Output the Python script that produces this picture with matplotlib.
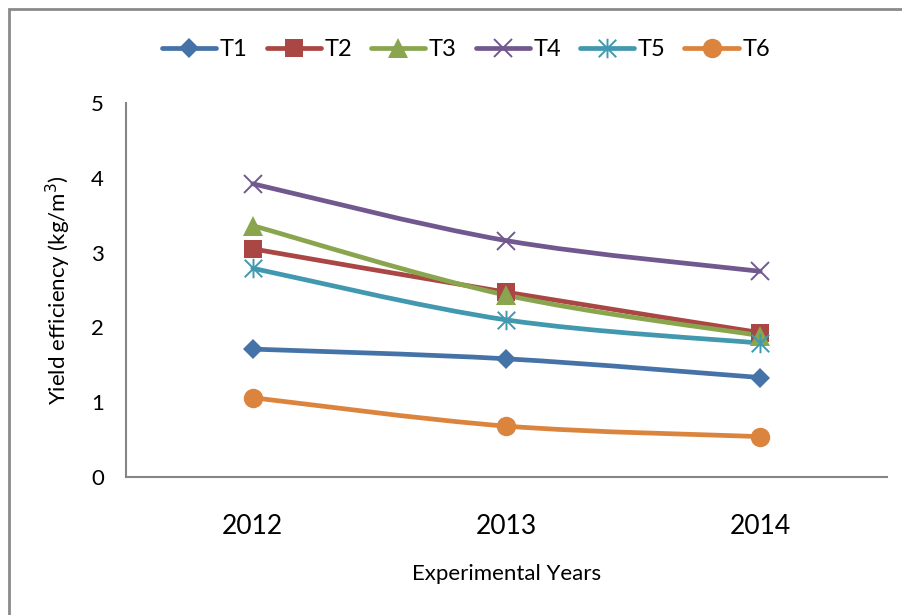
import matplotlib
matplotlib.use("Agg")
import matplotlib.pyplot as plt
import numpy as np
from matplotlib.path import Path
from matplotlib.patches import PathPatch, Rectangle
from matplotlib.lines import Line2D

plt.rcParams['font.family'] = ['Lato', 'DejaVu Sans']

years = ["2012", "2013", "2014"]
series_names = ["T1", "T2", "T3", "T4", "T5", "T6"]
t1 = [1.71, 1.58, 1.33]
t2 = [3.05, 2.47, 1.93]
t3 = [3.36, 2.43, 1.89]
t4 = [3.92, 3.16, 2.75]
t5 = [2.79, 2.10, 1.79]
t6 = [1.06, 0.68, 0.54]
y_ticks = [0, 1, 2, 3, 4, 5]

colors = ["#4572A7", "#AA4643", "#89A54E", "#71588F", "#4198AF", "#DB843D"]

# six-spoke asterisk: vertical stroke plus an X
star_path = Path(
    [(0, -0.5), (0, 0.5), (-0.45, -0.45), (0.45, 0.45), (-0.45, 0.45), (0.45, -0.45)],
    [Path.MOVETO, Path.LINETO, Path.MOVETO, Path.LINETO, Path.MOVETO, Path.LINETO],
)
markers = ["D", "s", "^", "x", star_path, "o"]
msizes = [10, 13, 14, 13, 14, 14]
medge = [0, 0, 0, 1.4, 1.4, 0]


def smooth_path(xs, ys):
    pts = np.column_stack([xs, ys]).astype(float)
    n = len(pts)
    verts = [tuple(pts[0])]
    codes = [Path.MOVETO]
    for i in range(n - 1):
        p0 = pts[i - 1] if i > 0 else pts[i]
        p1 = pts[i]
        p2 = pts[i + 1]
        p3 = pts[i + 2] if i + 2 < n else pts[i + 1]
        c1 = p1 + (p2 - p0) / 6.0
        c2 = p2 - (p3 - p1) / 6.0
        verts += [tuple(c1), tuple(c2), tuple(p2)]
        codes += [Path.CURVE4] * 3
    return Path(verts, codes)


fig = plt.figure(figsize=(9.02, 6.15), dpi=100)
ax = fig.add_axes([126 / 902, 1 - 477 / 615, (887 - 126) / 902, (477 - 103) / 615])

x = np.arange(len(years))
data = [t1, t2, t3, t4, t5, t6]
handles = []
for vals, name, c, m, ms, mew in zip(data, series_names, colors, markers, msizes, medge):
    patch = PathPatch(smooth_path(x, vals), fill=False, edgecolor=c, lw=3.4,
                      capstyle="round", joinstyle="round", zorder=2)
    ax.add_patch(patch)
    ax.plot(x, vals, linestyle="none", marker=m, markersize=ms, color=c,
            markeredgecolor=c, markeredgewidth=mew, zorder=3)
    handles.append(Line2D([], [], color=c, lw=3.4, marker=m, markersize=ms,
                          markeredgecolor=c, markeredgewidth=mew,
                          solid_capstyle="round", label=name))

ax.set_xlim(-0.5, 2.5)
ax.set_ylim(0, 5)
ax.set_xticks(x)
ax.set_xticklabels(years, fontsize=19)
ax.set_yticks(y_ticks)
ax.set_yticklabels([str(v) for v in y_ticks], fontsize=16)
ax.tick_params(axis="x", length=0, pad=27)
ax.tick_params(axis="y", length=0, pad=16)
for s in ["top", "right"]:
    ax.spines[s].set_visible(False)
for s in ["left", "bottom"]:
    ax.spines[s].set_color("#868686")
    ax.spines[s].set_linewidth(1.5)

ax.set_xlabel("Experimental Years", fontsize=16, labelpad=18)
ax.set_ylabel("Yield efficiency (kg/m$^3$)", fontsize=16, labelpad=13)

fig.legend(handles=handles, loc="center", bbox_to_anchor=(466 / 902, 1 - 50 / 615),
           ncol=6, frameon=False, fontsize=17, handlelength=2.3,
           columnspacing=0.8, handletextpad=0.15)

fig.add_artist(Rectangle((9 / 902, -0.1), 1.2, 1 - 9 / 615 + 0.1,
                         transform=fig.transFigure, fill=False,
                         edgecolor="#8a8a8a", lw=2, clip_on=False))

fig.savefig("out.png", dpi=100, facecolor="white")
